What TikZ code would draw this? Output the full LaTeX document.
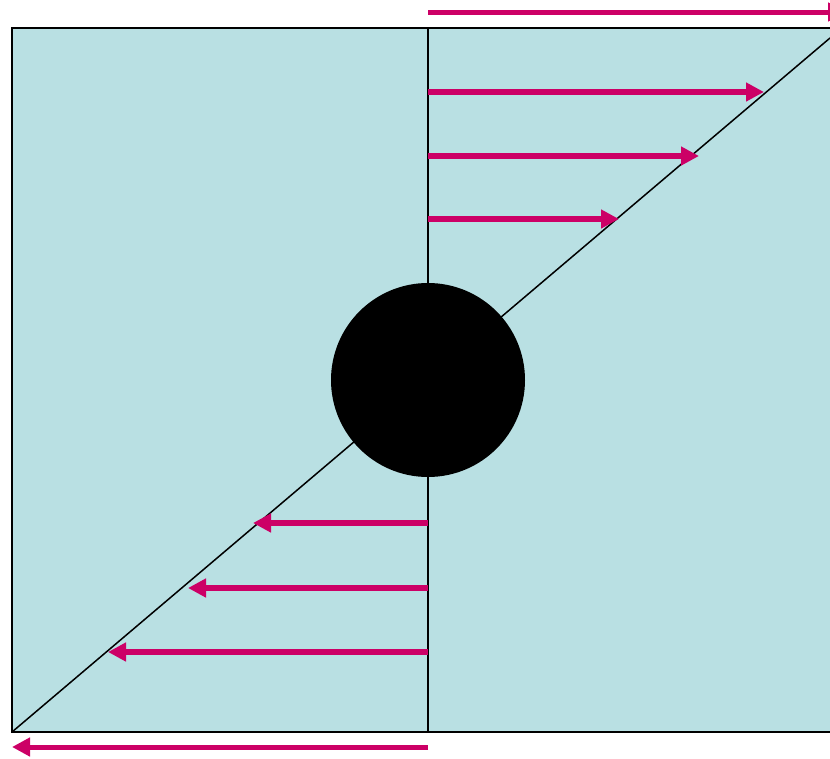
\documentclass[tikz,border=0pt]{standalone}
\usetikzlibrary{arrows.meta}
\definecolor{panel}{RGB}{185,224,227}
\definecolor{force}{RGB}{204,0,102}
\begin{document}
\begin{tikzpicture}[x=1pt,y=-1pt,
  force arrow/.style={draw=force,line width=6pt,-{Triangle[length=18pt,width=18pt]}},
  edge arrow/.style={draw=force,line width=5pt,-{Triangle[length=18pt,width=18pt]}},
  frame/.style={draw=black,line width=2pt},
  thin line/.style={draw=black,line width=1.5pt}]
\useasboundingbox (0,0) rectangle (830,758);
\clip (0,0) rectangle (830,758);
% panel
\fill[panel] (12,28) rectangle (840,732);
\draw[frame] (840,28) -- (12,28) -- (12,732) -- (840,732);
\coordinate (top) at (428,28);
\coordinate (bot) at (428,732);
\draw[frame] (top) -- (bot);
\coordinate (dl) at (12,732);
\coordinate (dr) at (830,38);
\draw[thin line] (dl) -- (dr);
% circle
\node[circle,fill=black,minimum size=194pt,inner sep=0pt] (c) at (428,380) {};
% top arrows
\coordinate (a0s) at (428,12); \coordinate (a0e) at (846,12);
\draw[edge arrow] (a0s) -- (a0e);
\coordinate (a1s) at (428,92); \coordinate (a1e) at (764,92);
\draw[force arrow] (a1s) -- (a1e);
\coordinate (a2s) at (428,156); \coordinate (a2e) at (699,156);
\draw[force arrow] (a2s) -- (a2e);
\coordinate (a3s) at (428,219); \coordinate (a3e) at (619,219);
\draw[force arrow] (a3s) -- (a3e);
% bottom arrows
\coordinate (b1s) at (428,523); \coordinate (b1e) at (253,523);
\draw[force arrow] (b1s) -- (b1e);
\coordinate (b2s) at (428,588); \coordinate (b2e) at (188,588);
\draw[force arrow] (b2s) -- (b2e);
\coordinate (b3s) at (428,652); \coordinate (b3e) at (108,652);
\draw[force arrow] (b3s) -- (b3e);
\coordinate (b4s) at (428,747); \coordinate (b4e) at (12,747);
\draw[edge arrow] (b4s) -- (b4e);
\end{tikzpicture}
\end{document}
